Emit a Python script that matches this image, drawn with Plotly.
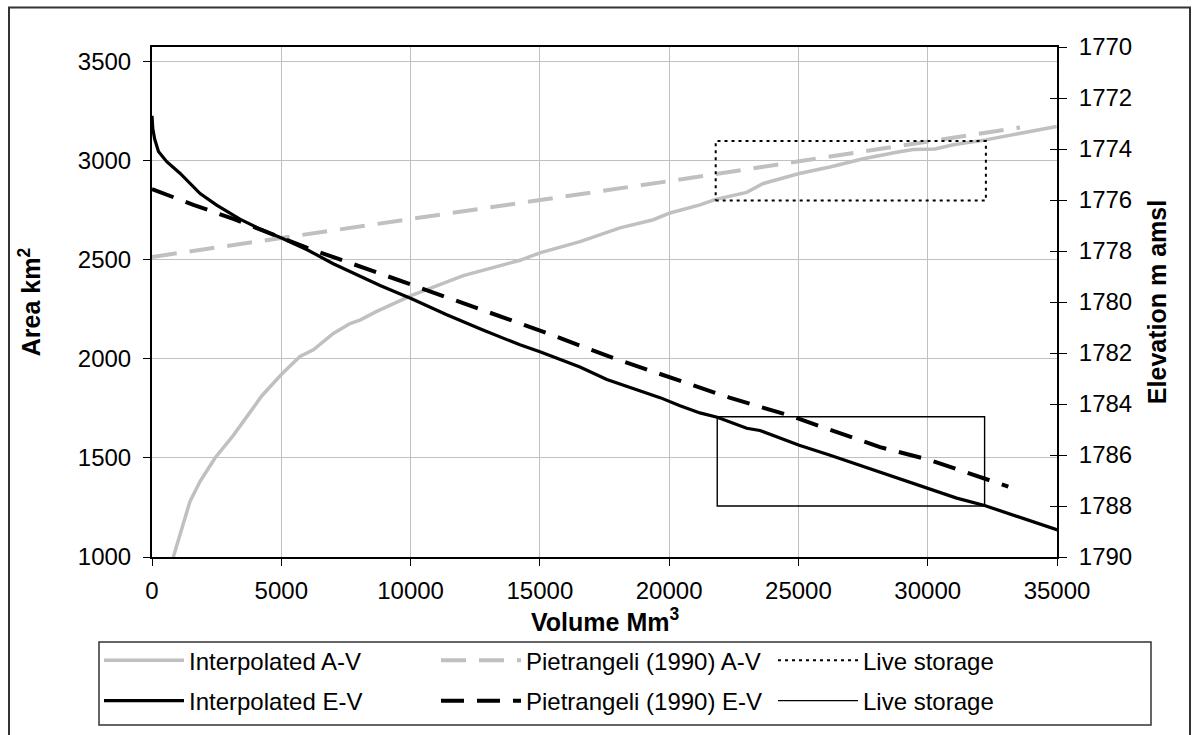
import plotly.graph_objects as go

# ---------------- data ----------------
# Interpolated Area-Volume (left axis)
av_vol = [824, 1148, 1470, 1856, 2437, 3145, 3790, 4242, 5028, 5724, 6240, 7013, 7657,
          8044, 8690, 9591, 10044, 12040, 14232, 15032, 16553, 18100, 19389, 20033, 21193,
          21800, 23000, 23642, 25034, 26221, 27510, 28800, 29444, 30282, 30991, 32242,
          33697, 34341, 34986]
av_area = [1000, 1148, 1281, 1381, 1500, 1614, 1730, 1813, 1925, 2013, 2046, 2129, 2179,
           2196, 2240, 2296, 2321, 2421, 2498, 2537, 2592, 2662, 2703, 2737, 2778,
           2806, 2841, 2886, 2936, 2969, 3011, 3044, 3057, 3060, 3081, 3106,
           3141, 3157, 3174]

# Pietrangeli (1990) Area-Volume (left axis)
pav_vol = [0, 9332, 20420, 33570]
pav_area = [2515, 2692, 2906, 3169]

# Interpolated Elevation-Volume (right axis)
ev_vol = [0, 30, 100, 250, 570, 1080, 1860, 2500, 3400, 4200, 5030, 6000, 7010, 8040,
          8820, 10040, 11400, 12800, 14230, 15030, 16550, 17590, 18600, 19650, 20420,
          21190, 21860, 23000, 23510, 25030, 26200, 27380, 28700, 30020, 31120, 32200,
          33830, 35050]
ev_elev = [1772.70, 1773.2, 1773.6, 1774.1, 1774.5, 1774.95, 1775.75, 1776.2, 1776.75,
           1777.15, 1777.5, 1777.95, 1778.5, 1779.0, 1779.35, 1779.87, 1780.5, 1781.1,
           1781.68, 1781.96, 1782.55, 1783.04, 1783.4, 1783.75, 1784.07, 1784.35,
           1784.52, 1784.95, 1785.04, 1785.62, 1786.0, 1786.4, 1786.85, 1787.3, 1787.69,
           1787.98, 1788.53, 1788.95]

# Pietrangeli (1990) Elevation-Volume (right axis)
pev_vol = [0, 1600, 3145, 5982, 8946, 15007, 17842, 21193, 22333, 24674, 28155, 30088, 33117]
pev_elev = [1775.57, 1776.19, 1776.74, 1777.87, 1778.93, 1781.12, 1782.20, 1783.36,
            1783.75, 1784.46, 1785.69, 1786.20, 1787.24]

# Live storage boxes
live_av_vol = [21800, 32250]
live_av_area = [2800, 3100]
live_ev_vol = [21860, 32200]
live_ev_elev = [1784.5, 1788.0]

x_ticks = [0, 5000, 10000, 15000, 20000, 25000, 30000, 35000]
left_ticks = [1000, 1500, 2000, 2500, 3000, 3500]
right_ticks = [1770, 1772, 1774, 1776, 1778, 1780, 1782, 1784, 1786, 1788, 1790]

# ---------------- figure ----------------
FONT = "Liberation Sans, Arial, sans-serif"
GRAY = "#c0c0c0"
W, H = 1196, 735
L, R, T, B = 152, 139, 47, 172
PW, PH = W - L - R, H - T - B


def px_x(p):
    return (p - L) / PW


def px_y(p):
    return (T + PH - p) / PH


def box(xs, ys):
    return [xs[0], xs[1], xs[1], xs[0], xs[0]], [ys[0], ys[0], ys[1], ys[1], ys[0]]


fig = go.Figure()
fig.add_trace(go.Scatter(x=av_vol, y=av_area, mode="lines", name="Interpolated A-V",
                         line=dict(color=GRAY, width=3.5), yaxis="y", legend="legend"))
fig.add_trace(go.Scatter(x=pav_vol, y=pav_area, mode="lines", name="Pietrangeli (1990) A-V",
                         line=dict(color=GRAY, width=4, dash="25px,13px"), yaxis="y",
                         legend="legend"))
bx, by = box(live_av_vol, live_av_area)
fig.add_trace(go.Scatter(x=bx, y=by, mode="lines", name="Live storage",
                         line=dict(color="black", width=2, dash="3px,4px"), yaxis="y",
                         legend="legend"))
fig.add_trace(go.Scatter(x=ev_vol, y=ev_elev, mode="lines", name="Interpolated E-V",
                         line=dict(color="black", width=3.2), yaxis="y2", legend="legend2"))
fig.add_trace(go.Scatter(x=pev_vol, y=pev_elev, mode="lines", name="Pietrangeli (1990) E-V",
                         line=dict(color="black", width=4, dash="23px,13px"), yaxis="y2",
                         legend="legend2"))
bx2, by2 = box(live_ev_vol, live_ev_elev)
fig.add_trace(go.Scatter(x=bx2, y=by2, mode="lines", name="Live storage",
                         line=dict(color="black", width=1.4), yaxis="y2", legend="legend2"))

tickfont = dict(family=FONT, size=24, color="black")
titlefont = dict(family=FONT, size=25, color="black", weight="bold")
legfont = dict(family=FONT, size=24, color="black")

fig.update_layout(
    width=W, height=H,
    margin=dict(l=L, r=R, t=T, b=B),
    paper_bgcolor="white", plot_bgcolor="white",
    font=dict(family=FONT, size=24, color="black"),
    xaxis=dict(range=[0, 35000], tickvals=x_ticks, ticktext=[str(v) for v in x_ticks],
               showgrid=True, gridcolor=GRAY, gridwidth=1, zeroline=False,
               showline=True, linecolor="black", linewidth=2, mirror=True,
               ticks="outside", ticklen=7, tickcolor="black", tickfont=tickfont,
               ticklabelstandoff=4),
    yaxis=dict(range=[1000, 3575], tickvals=left_ticks, ticktext=[str(v) for v in left_ticks],
               showgrid=True, gridcolor=GRAY, gridwidth=1, zeroline=False,
               showline=True, linecolor="black", linewidth=2, mirror=True,
               ticks="outside", ticklen=7, tickcolor="black", tickfont=tickfont,
               ticklabelstandoff=7,
               title=dict(text="Area km<sup>2</sup>", font=titlefont, standoff=30)),
    yaxis2=dict(range=[1790, 1770], tickvals=right_ticks, ticktext=[str(v) for v in right_ticks],
                overlaying="y", side="right", anchor="x",
                showgrid=False, zeroline=False,
                showline=True, linecolor="black", linewidth=2,
                ticks="outside", ticklen=8, tickcolor="black", tickfont=tickfont,
                ticklabelstandoff=7,
                title=dict(text="Elevation m amsl", font=titlefont, standoff=17)),
    yaxis3=dict(range=[1790, 1770], tickvals=right_ticks, overlaying="y", side="right",
                anchor="x", showgrid=False, zeroline=False, showline=False,
                showticklabels=False, ticks="inside", ticklen=7, tickcolor="black"),
    showlegend=True,
    legend=dict(orientation="h", x=px_x(99), xanchor="left",
                y=px_y(645), yanchor="top",
                borderwidth=0, bgcolor="rgba(0,0,0,0)", font=legfont,
                entrywidth=242, itemwidth=80, traceorder="normal"),
    legend2=dict(orientation="h", x=px_x(99), xanchor="left",
                 y=px_y(686), yanchor="top",
                 borderwidth=0, bgcolor="rgba(0,0,0,0)", font=legfont,
                 entrywidth=242, itemwidth=80, traceorder="normal"),
    annotations=[
        dict(text="Volume Mm<sup>3</sup>", xref="paper", yref="paper",
             x=0.5, y=px_y(645), xanchor="center", yanchor="bottom",
             showarrow=False, font=titlefont),
    ],
    shapes=[
        # outer chart border
        dict(type="rect", xref="paper", yref="paper",
             x0=px_x(9), x1=px_x(1190), y0=px_y(800), y1=px_y(7),
             line=dict(color="#333333", width=2), layer="below"),
        # legend frame
        dict(type="rect", xref="paper", yref="paper",
             x0=px_x(99), x1=px_x(1151), y0=px_y(733), y1=px_y(649),
             line=dict(color="#333333", width=1.5), layer="below"),
    ],
)

# dummy invisible trace so the inside-tick axis is drawn
fig.add_trace(go.Scatter(x=[None], y=[None], yaxis="y3", showlegend=False, hoverinfo="skip"))

fig.write_html("out.html", config={"displayModeBar": False},
               post_script="document.body.style.margin='0px';document.body.style.overflow='hidden';")
